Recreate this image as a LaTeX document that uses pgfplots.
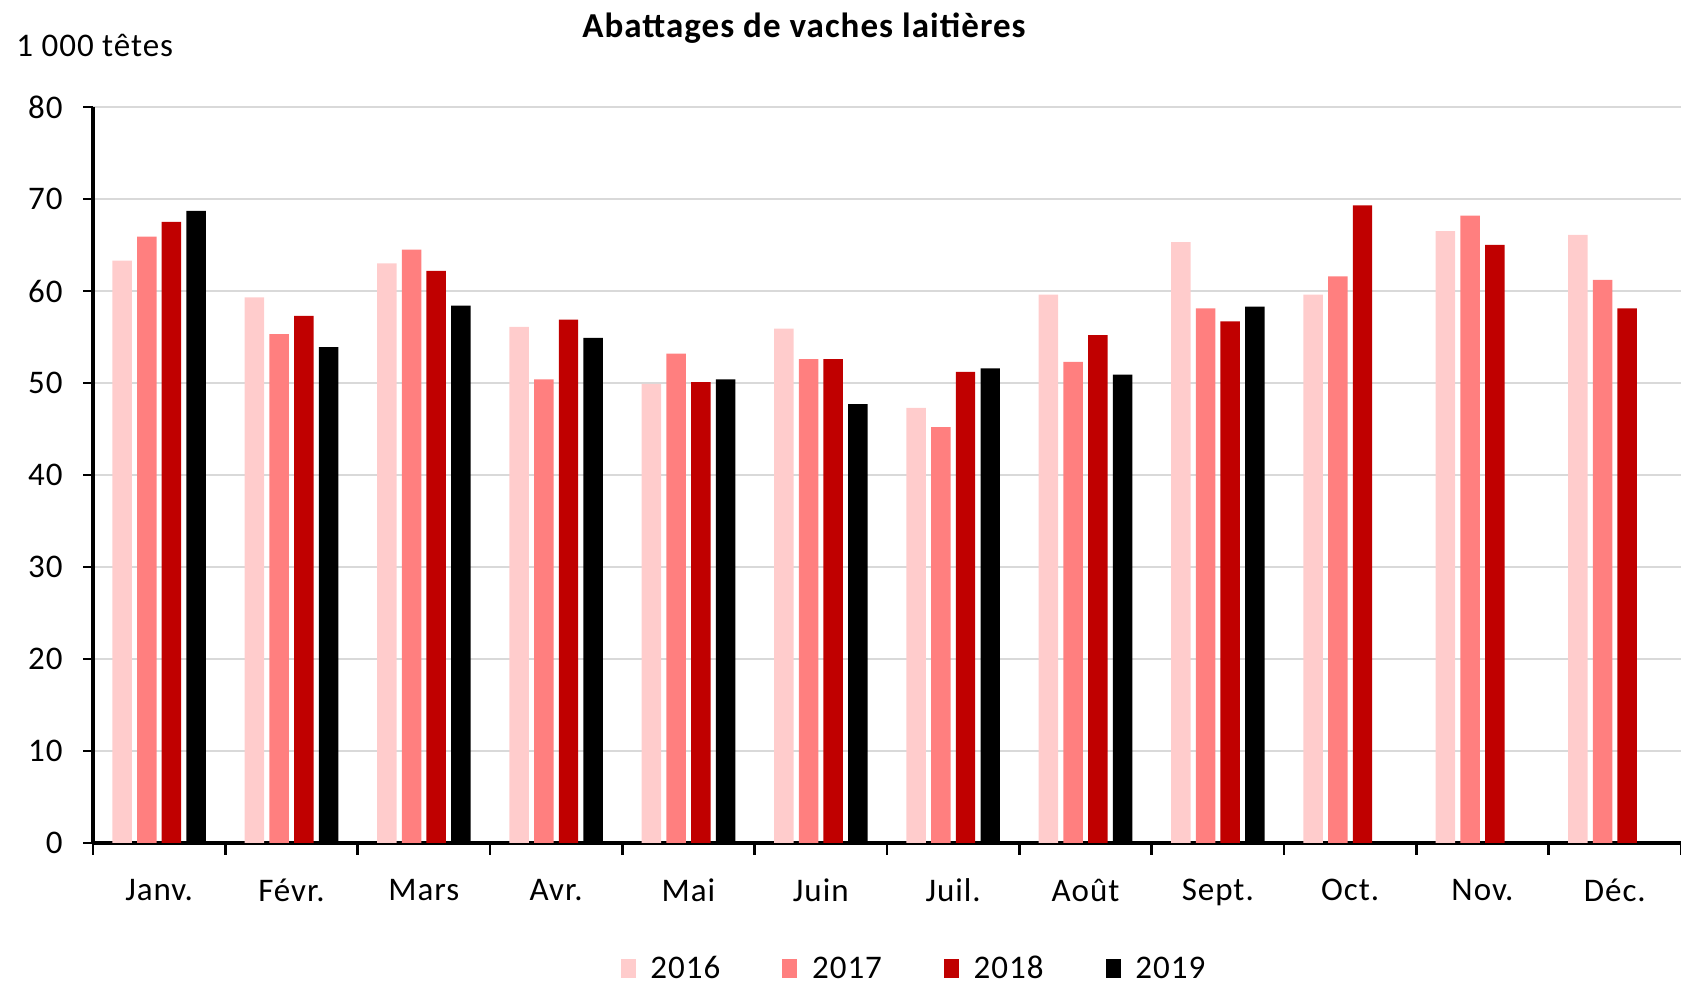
\documentclass[border=0pt]{standalone}
\usepackage{pgfplots}
\pgfplotsset{compat=1.18}
\usepackage{fontspec}
\setmainfont{Carlito}[LetterSpace=3]
\definecolor{c16}{HTML}{FFCCCC}
\definecolor{c17}{HTML}{FF7F7F}
\definecolor{c18}{HTML}{C00000}
\definecolor{c19}{HTML}{000000}
\definecolor{gridc}{HTML}{D9D9D9}
\newcommand{\fs}{\fontsize{16.5}{19}\selectfont}
\begin{document}
\begin{tikzpicture}
\begin{axis}[
  name=ax,
  at={(0,0)}, anchor=south west,
  scale only axis,
  width=794pt, height=368pt,
  xmin=-0.5, xmax=11.5,
  ymin=0, ymax=80,
  ytick={0,10,...,80},
  xtick={0,...,11},
  xticklabels={Janv.,Févr.,Mars,Avr.,Mai,Juin,Juil.,Août,Sept.,Oct.,Nov.,Déc.},
  minor xtick={-0.5,0.5,...,11.5},
  axis x line*=bottom,
  axis y line*=left,
  axis line style={line width=1.6pt, black},
  tick align=outside,
  x tick style={draw=none},
  minor x tick style={draw=black, line width=1.4pt},
  y tick style={line width=1.4pt, black},
  major tick length=5pt,
  minor tick length=6pt,
  ymajorgrids,
  grid style={line width=1.2pt, gridc},
  /pgf/number format/assume math mode=true,
  tick label style={font=\fs},
  xticklabel style={yshift=-9.5pt},
  yticklabel style={xshift=-6.7pt},
  legend columns=4,
  legend style={draw=none, fill=none, at={(0.5176,-0.171)}, anchor=center, font=\fs,
    /tikz/every odd column/.append style={column sep=5.4pt},
    /tikz/every even column/.append style={column sep=29pt}},
  legend image code/.code={\fill[#1] (0pt,-4.75pt) rectangle (7.5pt,4.75pt);},
]
\addplot[ybar, bar width=0.147, bar shift=-0.28, fill=c16, draw=none] coordinates {
(0,63.3) (1,59.3) (2,63.0) (3,56.1) (4,49.9) (5,55.9) (6,47.3) (7,59.6) (8,65.3) (9,59.6) (10,66.5) (11,66.1)};
\addlegendentry{2016}
\addplot[ybar, bar width=0.147, bar shift=-0.093, fill=c17, draw=none] coordinates {
(0,65.9) (1,55.3) (2,64.5) (3,50.4) (4,53.2) (5,52.6) (6,45.2) (7,52.3) (8,58.1) (9,61.6) (10,68.2) (11,61.2)};
\addlegendentry{2017}
\addplot[ybar, bar width=0.147, bar shift=0.093, fill=c18, draw=none] coordinates {
(0,67.5) (1,57.3) (2,62.2) (3,56.9) (4,50.1) (5,52.6) (6,51.2) (7,55.2) (8,56.7) (9,69.3) (10,65.0) (11,58.1)};
\addlegendentry{2018}
\addplot[ybar, bar width=0.147, bar shift=0.28, fill=c19, draw=none] coordinates {
(0,68.7) (1,53.9) (2,58.4) (3,54.9) (4,50.4) (5,47.7) (6,51.6) (7,50.9) (8,58.3)};
\addlegendentry{2019}
\end{axis}
\node[font=\fontsize{17.5}{20}\selectfont\bfseries, anchor=center] at ([xshift=355.5pt,yshift=407.5pt]ax.south west) {Abattages de vaches laitières};
\node[font=\fs, anchor=base west, inner sep=0pt] at ([xshift=-38.5pt,yshift=393pt]ax.south west) {1 000 têtes};
\pgfresetboundingbox
\path[use as bounding box] ([xshift=-46.5pt,yshift=-70pt]ax.south west) rectangle ([xshift=794pt,yshift=421.5pt]ax.south west);
\end{tikzpicture}
\end{document}
